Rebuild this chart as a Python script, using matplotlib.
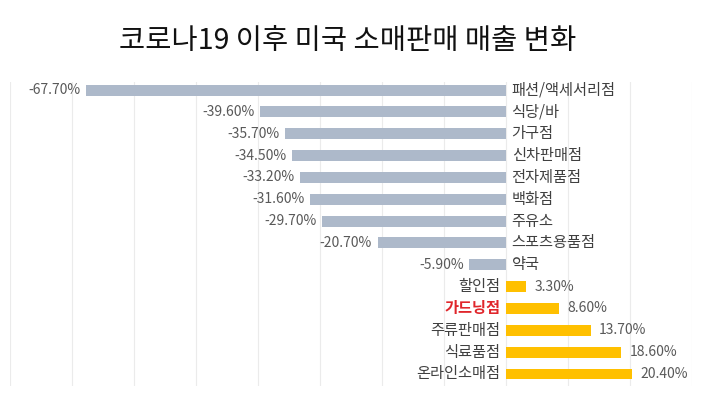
import numpy as np
import matplotlib.pyplot as plt

plt.rcParams['font.family'] = ['Noto Sans CJK KR', 'DejaVu Sans']

categories = ['패션/액세서리점', '식당/바', '가구점', '신차판매점', '전자제품점', '백화점', '주유소',
              '스포츠용품점', '약국', '할인점', '가드닝점', '주류판매점', '식료품점', '온라인소매점']
values = [-67.7, -39.6, -35.7, -34.5, -33.2, -31.6, -29.7, -20.7, -5.9, 3.3, 8.6, 13.7, 18.6, 20.4]
highlight = '가드닝점'

fig = plt.figure(figsize=(7.01, 3.95), dpi=100)
ax = fig.add_axes([10/701, 1 - 386/395, 682/701, 304/395])

y = np.arange(len(categories))
colors = ['#ADB9CA' if v < 0 else '#FFC000' for v in values]
ax.barh(y, values, height=0.5, color=colors, zorder=2)

for i, (c, v) in enumerate(zip(categories, values)):
    if v < 0:
        ax.text(0.9, i, c, ha='left', va='center', fontsize=11, color='#404040')
        ax.text(v - 0.9, i, f'{v:.2f}%', ha='right', va='center', fontsize=10, color='#595959')
    else:
        col = '#E0262B' if c == highlight else '#404040'
        ax.text(-0.9, i, c, ha='right', va='center', fontsize=11, color=col,
                fontweight='bold' if c == highlight else 'normal')
        ax.text(v + 1.3, i, f'{v:.2f}%', ha='left', va='center', fontsize=10, color='#595959')

ax.set_xlim(-80, 30)
ax.set_ylim(13.55, -0.37)
ax.set_xticks(np.arange(-80, 31, 10))
ax.grid(axis='x', color='#EBEBEB', linewidth=0.8, zorder=0)
ax.tick_params(length=0, labelbottom=False, labelleft=False)
ax.set_yticks([])
for s in ax.spines.values():
    s.set_visible(False)

fig.text(0.5 - 3/701, 1 - 41/395, '코로나19 이후 미국 소매판매 매출 변화', ha='center', va='center',
         fontsize=20.5, fontweight='medium', color='#111111')

fig.savefig('out.png', dpi=100)
